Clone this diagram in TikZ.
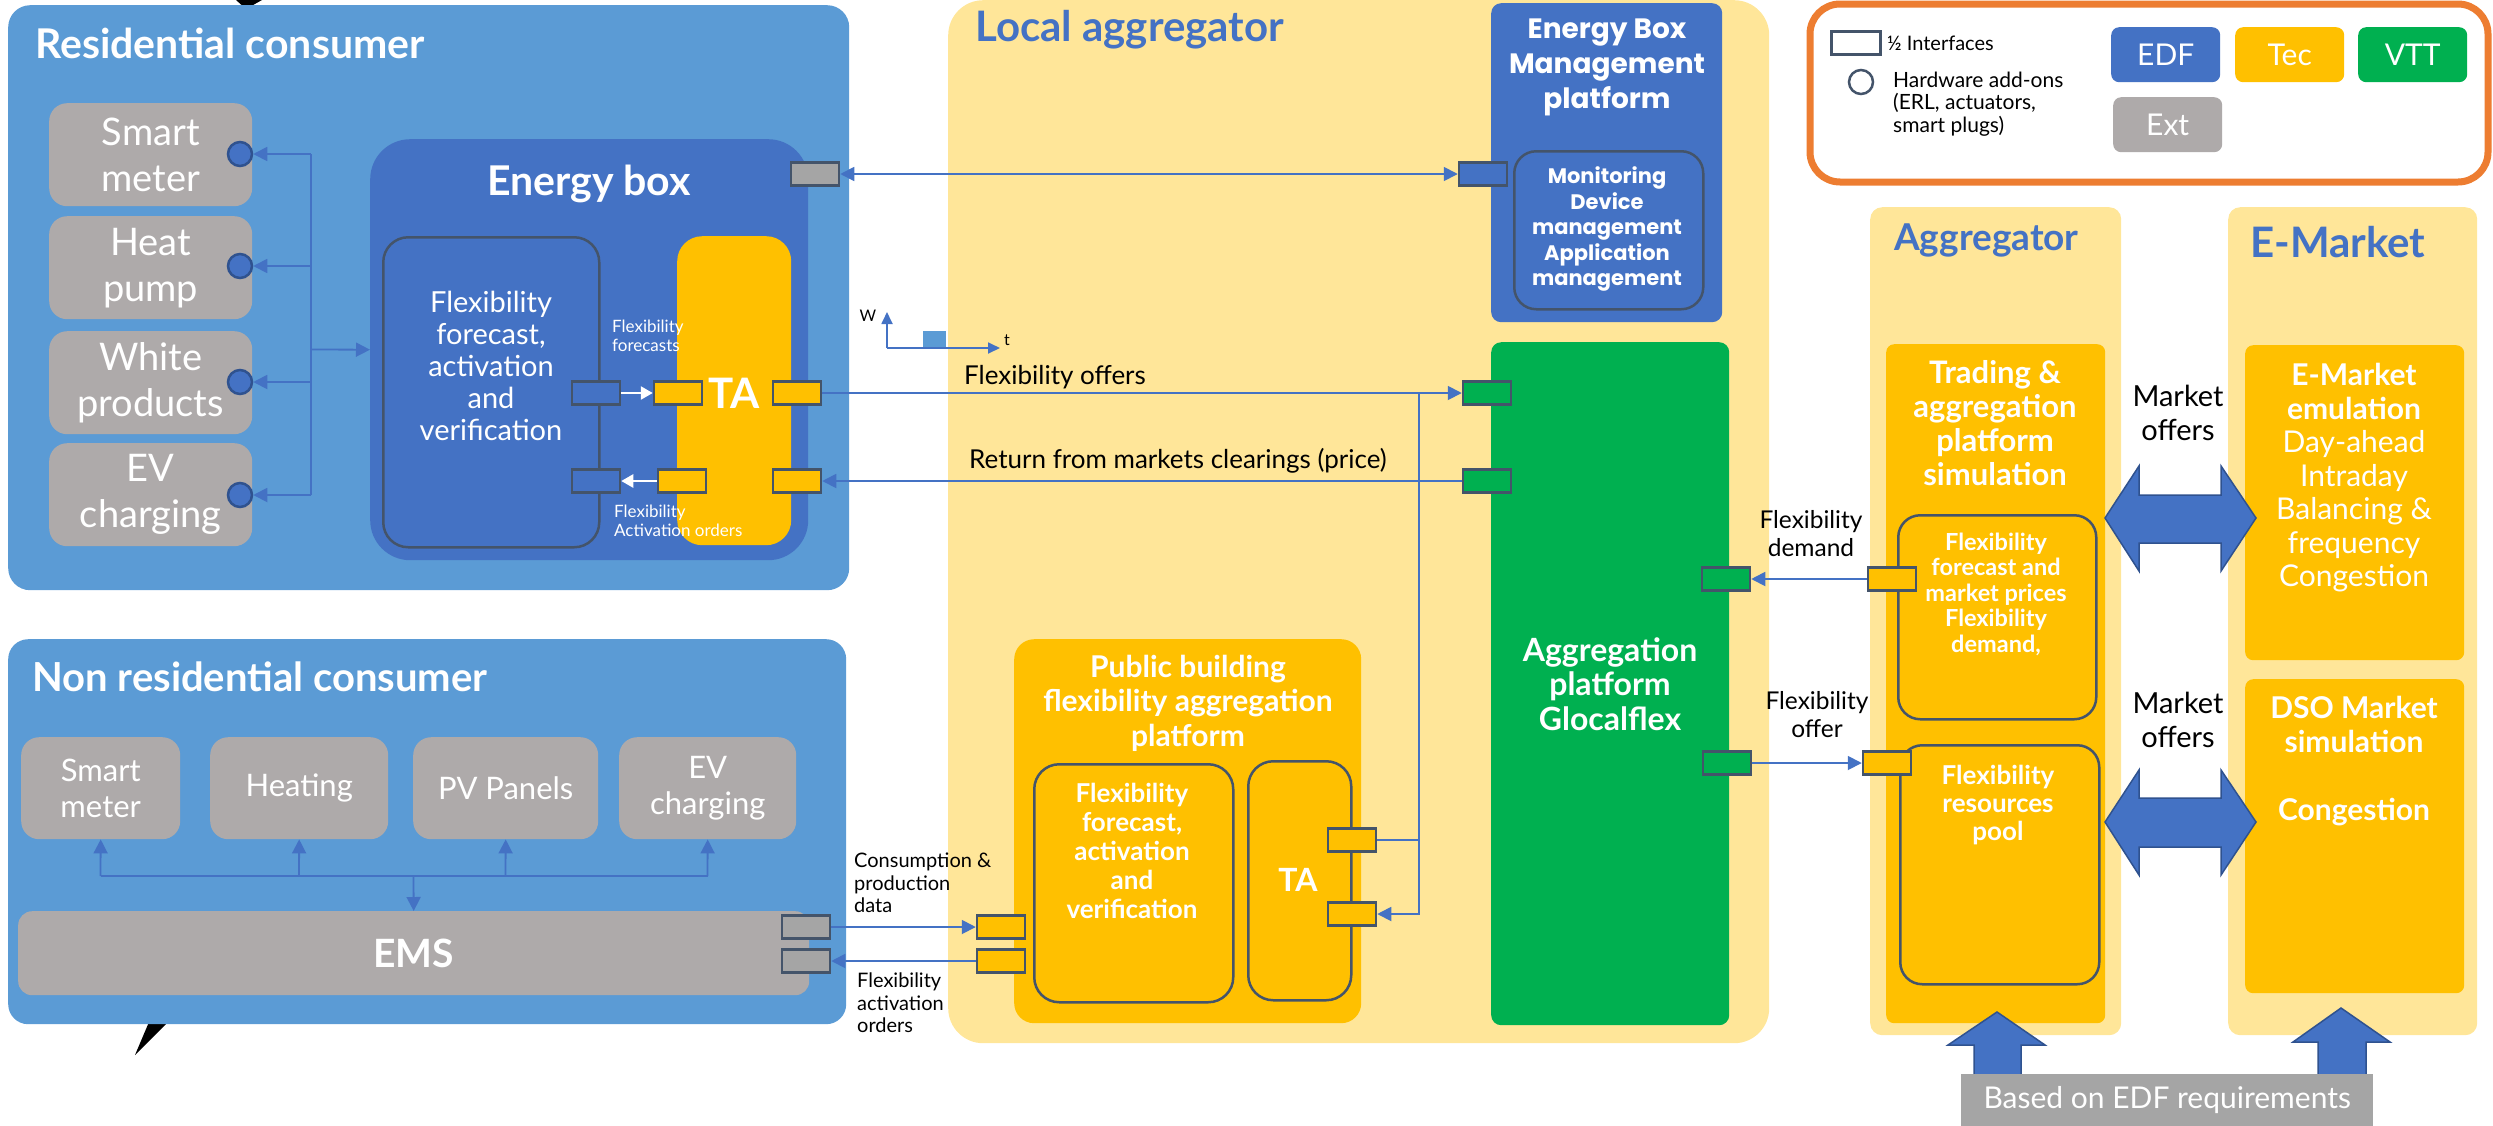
\documentclass[tikz,border=0pt]{standalone}
\usepackage{fontspec}
\setmainfont{Lato}
\newfontfamily\popfont{Poppins}
\usetikzlibrary{arrows.meta}
\definecolor{resblue}{HTML}{5B9BD5}
\definecolor{edf}{HTML}{4472C4}
\definecolor{tec}{HTML}{FFC000}
\definecolor{vtt}{HTML}{00B050}
\definecolor{ext}{HTML}{AEAAAA}
\definecolor{lagg}{HTML}{FFE699}
\definecolor{ifc}{HTML}{44546A}
\definecolor{darkb}{HTML}{2F528F}
\definecolor{gry}{HTML}{A5A5A5}
\definecolor{org}{HTML}{ED7D31}
\newcommand\fsz[2]{\fontsize{#1}{#2}\selectfont}
\begin{document}
\begin{tikzpicture}[x=1pt,y=-1pt,
 sz/.style 2 args={minimum width=#1pt,minimum height=#2pt},
 box/.style={rectangle,inner sep=0pt,anchor=north west},
 iface/.style={rectangle,inner sep=0pt,draw=ifc,line width=2.5pt,minimum width=48pt,minimum height=23pt},
 conn/.style={draw=edf,line width=1.8pt,-{Triangle[length=14pt,width=14pt]}},
 plainln/.style={draw=edf,line width=1.8pt},
 wconn/.style={draw=white,line width=2.5pt,-{Triangle[length=12pt,width=13pt]}},
 wt/.style={text=white,align=center,inner sep=0pt},
 bt/.style={text=black,align=center,inner sep=0pt},
 dev/.style={box,fill=ext,rounded corners=18pt,text=white,align=center,font=\fsz{38}{46}},
 ndev/.style={box,fill=ext,rounded corners=18pt,text=white,align=center,font=\fsz{31}{36}},
 hw/.style={circle,inner sep=0pt,minimum size=24pt,fill=edf,draw=darkb,line width=2.5pt},
 bigarrow/.style={fill=edf,draw=darkb,line width=1.5pt},
 legbox/.style={box,rounded corners=8pt,sz={109}{55},text=white,font=\fsz{30}{32}}
]
\useasboundingbox (0,0) rectangle (2493,1125);
% callout tails
\fill[black] (236,0) -- (262,0) -- (246,9) -- cycle;
\fill[black] (149,1022) -- (168,1022) -- (135,1055) -- cycle;

% ===== backgrounds =====
\node[box,fill=lagg,rounded corners=35pt,sz={821}{1043}] (lagg) at (948,0) {};
\node[box,fill=resblue,rounded corners=22pt,sz={841}{585}] (res) at (8,5) {};
\node[box,fill=resblue,rounded corners=20pt,sz={838}{385}] (nres) at (8,639) {};
\node[box,fill=lagg,rounded corners=12pt,sz={251}{828}] (aggc) at (1870,207) {};
\node[box,fill=lagg,rounded corners=12pt,sz={249}{828}] (emc) at (2228,207) {};

% ===== titles =====
\node[wt,anchor=west,font=\fsz{41}{44}\bfseries] (trc) at (35,43) {Residential consumer};
\node[wt,anchor=west,font=\fsz{40}{44}\bfseries] (tnrc) at (32,677) {Non residential consumer};
\node[anchor=west,inner sep=0pt,text=edf,font=\fsz{42}{44}\bfseries] (tla) at (975,30) {Local aggregator};
\node[anchor=west,inner sep=0pt,text=edf,font=\fsz{37}{40}\bfseries] (tagg) at (1894,240) {Aggregator};
\node[anchor=west,inner sep=0pt,text=edf,font=\fsz{42}{44}\bfseries] (tem) at (2250,242) {E-Market};

% ===== residential devices =====
\node[dev,sz={203}{103}] (sm) at (49,103) {Smart\\meter};
\node[dev,sz={203}{103}] (hp) at (49,216) {Heat\\pump};
\node[dev,sz={203}{103}] (wp) at (49,331) {White\\products};
\node[dev,sz={203}{103}] (evc) at (49,443) {EV\\charging};
\node[hw] (c1) at (240,154) {};
\node[hw] (c2) at (240,266) {};
\node[hw] (c3) at (240,382) {};
\node[hw] (c4) at (240,495) {};

% ===== energy box =====
\node[box,fill=edf,rounded corners=40pt,sz={438}{421}] (ebox) at (370,139) {};
\node[wt,font=\fsz{41}{44}\bfseries] (tebox) at (589,184) {Energy box};
\node[box,fill=edf,draw=ifc,line width=2.5pt,rounded corners=25pt,sz={216}{310}] (efa) at (382,236) {};
\node[wt,font=\fsz{29}{32}] (tefa) at (491,366) {Flexibility\\forecast,\\activation\\and\\verification};
\node[box,fill=tec,rounded corners=25pt,sz={114}{309}] (eta) at (677,236) {};
\node[wt,font=\fsz{42}{46}\bfseries] (teta) at (734,393) {TA};
\node[iface,fill=edf] (e1) at (596,393) {};
\node[iface,fill=tec] (e2) at (678,393) {};
\node[iface,fill=tec] (e3) at (797,393) {};
\node[iface,fill=edf] (e4) at (596,481) {};
\node[iface,fill=tec] (e5) at (682,481) {};
\node[iface,fill=tec] (e6) at (797,481) {};
\node[iface,fill=gry] (eg) at (815,174) {};
\node[wt,anchor=west,align=left,font=\fsz{17}{19}] (lff) at (612,336) {Flexibility\\forecasts};
\node[wt,anchor=west,align=left,font=\fsz{17}{19}] (lfa) at (614,521) {Flexibility\\Activation orders};

% ===== W-t sketch =====
\fill[resblue] (923,331) rectangle (946,348);
\coordinate (ax0) at (887,348);
\coordinate (axw) at (887,312);
\coordinate (axt) at (1000,348);
\draw[edf,line width=1.8pt,-{Triangle[length=12pt,width=11pt]}] (ax0) -- (axw);
\draw[edf,line width=1.8pt,-{Triangle[length=12pt,width=11pt]}] (ax0) -- (axt);
\node[bt,font=\fsz{16}{18}] (lw) at (868,316) {W};
\node[bt,font=\fsz{16}{18}] (lt) at (1007,340) {t};

% ===== Energy Box Management platform =====
\node[box,fill=edf,rounded corners=10pt,sz={231}{319}] (ebm) at (1491,3) {};
\node[wt,font=\popfont\fsz{28}{35}\bfseries] (tebm) at (1607,67) {Energy Box\\Management\\platform};
\node[box,fill=edf,draw=ifc,line width=2.5pt,rounded corners=22pt,sz={189}{158}] (ebmi) at (1513,150) {};
\node[wt,font=\popfont\fsz{21}{25.5}\bfseries] (tebmi) at (1607,229) {Monitoring\\Device\\management\\Application\\management};
\node[iface,fill=edf] (eb) at (1483,174) {};

% ===== Aggregation platform Glocalflex =====
\node[box,fill=vtt,rounded corners=10pt,sz={238}{683}] (agp) at (1491,342) {};
\node[wt,font=\fsz{32}{34.5}\bfseries] (tagp) at (1610,684) {Aggregation\\platform\\Glocalflex};
\node[iface,fill=vtt] (g1) at (1487,393) {};
\node[iface,fill=vtt] (g2) at (1487,481) {};
\node[iface,fill=vtt] (g3) at (1726,579) {};
\node[iface,fill=vtt] (g4) at (1727,763) {};

% ===== Public building =====
\node[box,fill=tec,rounded corners=20pt,sz={347}{384}] (pb) at (1014,639) {};
\node[wt,font=\fsz{30}{34.5}\bfseries] (tpb) at (1188,703) {Public building\\flexibility aggregation\\platform};
\node[box,fill=tec,draw=ifc,line width=2.5pt,rounded corners=25pt,sz={199}{238}] (pbi) at (1033,763) {};
\node[wt,font=\fsz{26}{28.8}\bfseries] (tpbi) at (1132,851) {Flexibility\\forecast,\\activation\\and\\verification};
\node[box,fill=tec,draw=ifc,line width=2.5pt,rounded corners=25pt,sz={103}{239}] (pta) at (1247,760) {};
\node[wt,font=\fsz{32}{36}\bfseries] (tpta) at (1298,880) {TA};
\node[iface,fill=tec] (pt1) at (1352,840) {};
\node[iface,fill=tec] (pt2) at (1352,914) {};
\node[iface,fill=tec] (pl1) at (1001,927) {};
\node[iface,fill=tec] (pl2) at (1001,961) {};

% ===== Non residential devices =====
\node[ndev,sz={159}{102}] (n1) at (21,737) {Smart\\meter};
\node[ndev,sz={178}{102}] (n2) at (210,737) {Heating};
\node[ndev,sz={185}{102}] (n3) at (413,737) {PV Panels};
\node[ndev,sz={177}{102}] (n4) at (619,737) {EV\\charging};
\node[box,fill=ext,rounded corners=14pt,sz={791}{84},text=white,font=\fsz{39}{42}\bfseries] (ems) at (18,911) {EMS};
\node[iface,fill=gry] (m1) at (806,927) {};
\node[iface,fill=gry] (m2) at (806,961) {};
\node[bt,anchor=west,align=left,font=\fsz{20}{22.5}] (lcp) at (854,883) {Consumption \&\\production\\data};
\node[bt,anchor=west,align=left,font=\fsz{20}{22.5}] (lfao) at (857,1003) {Flexibility\\activation\\orders};

% ===== Aggregator column =====
\node[box,fill=tec,rounded corners=8pt,sz={219}{679}] (tr) at (1886,344) {};
\node[wt,font=\fsz{31}{34}\bfseries] (ttr) at (1995,423) {Trading \&\\aggregation\\platform\\simulation};
\node[box,fill=tec,draw=ifc,line width=2.5pt,rounded corners=22pt,sz={198}{204}] (tr1) at (1897,514) {};
\node[wt,font=\fsz{23.5}{25.5}\bfseries] (ttr1) at (1996,594) {Flexibility\\forecast and\\market prices\\Flexibility\\demand,};
\node[box,fill=tec,draw=ifc,line width=2.5pt,rounded corners=22pt,sz={199}{239}] (tr2) at (1899,744) {};
\node[wt,font=\fsz{26}{28}\bfseries] (ttr2) at (1998,805) {Flexibility\\resources\\pool};
\node[iface,fill=tec] (a1) at (1892,579) {};
\node[iface,fill=tec] (a2) at (1887,763) {};
\node[bt,font=\fsz{24.5}{28}] (lfd) at (1811,534) {Flexibility\\demand};
\node[bt,font=\fsz{24.5}{28}] (lfo2) at (1817,715) {Flexibility\\offer};

% ===== E-Market column =====
\node[box,fill=tec,rounded corners=8pt,sz={219}{315}] (em1) at (2245,345) {};
\node[wt,font=\fsz{30}{33.5}] (tem1) at (2354,478) {\textbf{E-Market}\\\textbf{emulation}\\Day-ahead\\Intraday\\Balancing \&\\frequency\\Congestion};
\node[box,fill=tec,rounded corners=8pt,sz={219}{314}] (em2) at (2245,679) {};
\node[wt,font=\fsz{30}{34}\bfseries] (tem2) at (2354,761) {DSO Market\\simulation\\\mbox{}\\Congestion};
\node[bt,font=\fsz{29}{34}] (lmo1) at (2178,413) {Market\\offers};
\node[bt,font=\fsz{29}{34}] (lmo2) at (2178,720) {Market\\offers};
\filldraw[bigarrow] (2105,518) -- (2139,466) -- (2139,495) -- (2221,495) -- (2221,466) -- (2256,518) -- (2221,571) -- (2221,543) -- (2139,543) -- (2139,571) -- cycle;
\filldraw[bigarrow] (2105,822) -- (2139,770) -- (2139,798) -- (2221,798) -- (2221,770) -- (2256,822) -- (2221,875) -- (2221,847) -- (2139,847) -- (2139,875) -- cycle;
\filldraw[bigarrow] (1997,1012) -- (2045,1045) -- (2021,1045) -- (2021,1076) -- (1974,1076) -- (1974,1045) -- (1948,1045) -- cycle;
\filldraw[bigarrow] (2341,1008) -- (2390,1042) -- (2366,1042) -- (2366,1076) -- (2318,1076) -- (2318,1042) -- (2293,1042) -- cycle;
\node[box,fill=gry,sz={412}{52},text=white,font=\fsz{30}{34}] (edfr) at (1961,1074) {Based on EDF requirements};

% ===== legend =====
\draw[org,line width=7pt,fill=white,rounded corners=30pt] (1810,4) rectangle (2488,182);
\node[rectangle,inner sep=0pt,draw=ifc,line width=2.5pt,minimum width=49pt,minimum height=23pt] (lr) at (1856,43) {};
\node[bt,anchor=west,font=\fsz{20}{22}] (llr) at (1887,43) {½ Interfaces};
\node[circle,inner sep=0pt,minimum size=24pt,draw=ifc,line width=2.5pt] (lc) at (1861,82) {};
\node[bt,anchor=west,align=left,font=\fsz{21}{22.5}] (llc) at (1893,104) {Hardware add-ons\\(ERL, actuators,\\smart plugs)};
\node[legbox,fill=edf] (kedf) at (2111,27) {EDF};
\node[legbox,fill=tec] (ktec) at (2235,27) {Tec};
\node[legbox,fill=vtt] (kvtt) at (2358,27) {VTT};
\node[legbox,fill=ext] (kext) at (2113,97) {Ext};

% ===== connectors =====
% residential bus
\coordinate (rb1) at (311,154);
\coordinate (rb2) at (311,266);
\coordinate (rb3) at (311,382);
\coordinate (rb4) at (311,495);
\coordinate (rbm) at (311,349.5);
\draw[plainln] (rb1) -- (rb4);
\draw[conn] (rb1) -- (c1.east);
\draw[conn] (rb2) -- (c2.east);
\draw[conn] (rb3) -- (c3.east);
\draw[conn] (rb4) -- (c4.east);
\draw[conn] (rbm) -- (ebox.west);
% energy box internal
\draw[wconn] (e1.east) -- (e2.west);
\draw[wconn] (e5.west) -- (e4.east);
% energy box to platforms
\draw[draw=edf,line width=1.8pt,{Triangle[length=14pt,width=14pt]}-{Triangle[length=14pt,width=14pt]}] (eg.east) -- (eb.west);
\draw[conn] (e3.east) -- (g1.west);
\node[bt,font=\fsz{26}{28}] (lfo) at (1055,377) {Flexibility offers};
\draw[conn] (g2.west) -- (e6.east);
\node[bt,font=\fsz{26}{28}] (lrm) at (1178,461) {Return from markets clearings (price)};
\coordinate (j1) at (1419,393);
\draw[plainln] (j1) |- (pt1.east);
\draw[conn] (j1) |- (pt2.east);
% non residential bus
\coordinate (nb1) at (100.5,876);
\coordinate (nb2) at (299,876);
\coordinate (nb3) at (505.5,876);
\coordinate (nb4) at (707.5,876);
\coordinate (nbm) at (413.5,876);
\draw[plainln] (nb1) -- (nb4);
\draw[conn] (nb1) -- (n1.south);
\draw[conn] (nb2) -- (n2.south);
\draw[conn] (nb3) -- (n3.south);
\draw[conn] (nb4) -- (n4.south);
\draw[conn] (nbm) -- (ems.north);
\draw[conn] (m1.east) -- (pl1.west);
\draw[conn] (pl2.west) -- (m2.east);
% aggregator
\draw[conn] (a1.west) -- (g3.east);
\draw[conn] (g4.east) -- (a2.west);
\end{tikzpicture}
\end{document}
